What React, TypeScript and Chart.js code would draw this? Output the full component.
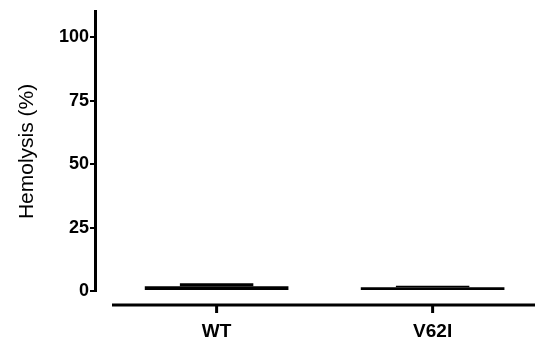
import React, { useEffect, useRef } from "react";
import { Chart, registerables } from "chart.js";

Chart.register(...registerables);

const categories = ["WT", "V62I"];
const hemolysis = [1.9, 1.5];
const errors = [1.2, 0.6];
const yTicks = [0, 25, 50, 75, 100];
const yMax = 110;

const axisPlugin = {
  id: "offsetXAxis",
  afterDraw(chart: any) {
    const { ctx, chartArea, scales } = chart;
    const x = scales.x;
    const yLine = chartArea.bottom + 14;
    ctx.save();
    ctx.strokeStyle = "#000";
    ctx.lineWidth = 3;
    ctx.beginPath();
    ctx.moveTo(chartArea.left + 17, yLine);
    ctx.lineTo(chartArea.right, yLine);
    ctx.stroke();
    categories.forEach((_, i) => {
      const px = x.getPixelForValue(i);
      ctx.beginPath();
      ctx.moveTo(px, yLine);
      ctx.lineTo(px, yLine + 8);
      ctx.stroke();
    });
    ctx.restore();
  },
};

export default function App() {
  const ref = useRef<HTMLCanvasElement>(null);
  useEffect(() => {
    document.body.style.margin = "0";
    const chart = new Chart(ref.current as HTMLCanvasElement, {
      type: "bar",
      data: {
        datasets: [
          {
            data: categories.map((_, i) => ({ x: i, y: hemolysis[i] })),
            backgroundColor: "#000",
            borderColor: "#000",
            borderWidth: 0,
            grouped: false,
            categoryPercentage: 1,
            barPercentage: 0.665,
          } as any,
          {
            data: categories.map((_, i) => ({ x: i, y: [hemolysis[i], hemolysis[i] + errors[i]] })),
            backgroundColor: "#000",
            borderColor: "#000",
            borderWidth: 0,
            grouped: false,
            categoryPercentage: 1,
            barPercentage: 0.34,
          } as any,
        ],
      },
      options: {
        responsive: false,
        animation: false,
        layout: { padding: { top: 10, right: 14, left: 0, bottom: 0 } },
        plugins: { legend: { display: false }, tooltip: { enabled: false } },
        scales: {
          x: {
            type: "linear",
            min: -0.563,
            max: 1.474,
            offset: false,
            grid: { display: false },
            border: { display: false },
            ticks: {
              stepSize: 1,
              includeBounds: false,
              padding: 21,
              color: "#000",
              font: { family: "Liberation Sans", weight: "bold", size: 19 },
              callback: (v: any) => (Number.isInteger(v) && categories[v] !== undefined ? categories[v] : ""),
              maxRotation: 0,
              autoSkip: false,
            },
            afterFit: (s: any) => {
              s.height = 59;
            },
          },
          y: {
            min: 0,
            max: yMax,
            afterBuildTicks: (s: any) => {
              s.ticks = yTicks.map((v) => ({ value: v }));
            },
            grid: {
              drawOnChartArea: false,
              drawTicks: true,
              tickLength: 5,
              color: "#000",
              lineWidth: 2,
            },
            border: { display: true, color: "#000", width: 3 },
            ticks: {
              padding: 1,
              color: "#000",
              font: { family: "Liberation Sans", weight: "bold", size: 18 },
            },
            title: {
              display: true,
              text: "Hemolysis (%)",
              color: "#000",
              font: { family: "Liberation Sans", size: 21 },
              padding: { top: 15, bottom: 0 },
            },
            afterFit: (s: any) => {
              s.width = 95;
            },
          },
        },
      },
      plugins: [axisPlugin],
    } as any);
    return () => chart.destroy();
  }, []);
  return <canvas ref={ref} width={549} height={350} style={{ display: "block", width: 549, height: 350 }} />;
}
